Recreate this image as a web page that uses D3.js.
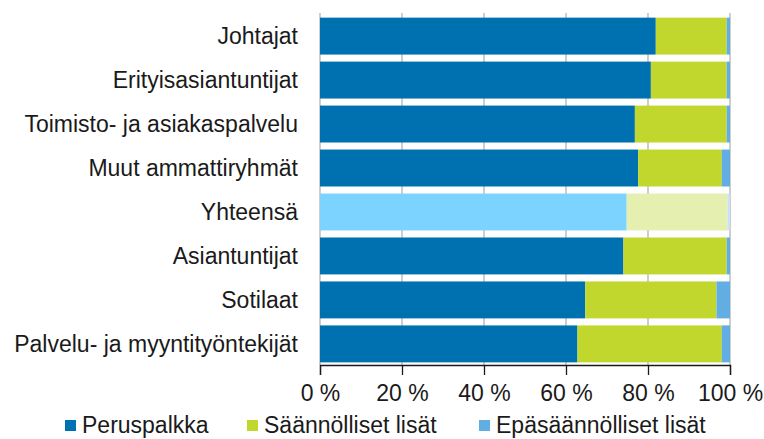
<!DOCTYPE html>
<html>
<head>
<meta charset="utf-8">
<script src="https://cdn.jsdelivr.net/npm/d3@7"></script>
<style>
  body { margin: 0; background: #fff; }
  text { font-family: "Liberation Sans", Arial, sans-serif; fill: #1a1a1a; }
</style>
</head>
<body>
<div id="chart"></div>
<script>
(() => {
    const width = 764, height = 439;
    const margin = { top: 15, right: 34, bottom: 74, left: 320 };

    // data, top to bottom
    const categories = ["Johtajat", "Erityisasiantuntijat", "Toimisto- ja asiakaspalvelu", "Muut ammattiryhmät",
        "Yhteensä", "Asiantuntijat", "Sotilaat", "Palvelu- ja myyntityöntekijät"];
    const seriesNames = ["Peruspalkka", "Säännölliset lisät", "Epäsäännölliset lisät"];
    const peruspalkka = [81.9, 80.7, 76.8, 77.6, 74.8, 74.0, 64.7, 62.8];
    const saannolliset = [17.3, 18.5, 22.4, 20.4, 24.6, 25.2, 32.0, 35.2];
    const epasaannolliset = [0.8, 0.8, 0.8, 2.0, 0.6, 0.8, 3.3, 2.0];
    const xTicks = [0, 20, 40, 60, 80, 100];
    const highlight = "Yhteensä";

    const colors = ["#0071b0", "#c2d72e", "#62aee3"];
    const lightColors = ["#7dd3ff", "#e5efb0", "#c6e4f6"];

    const rows = categories.map((c, i) => ({
        cat: c, v: [peruspalkka[i], saannolliset[i], epasaannolliset[i]]
    }));

    const svg = d3.select("#chart").append("svg")
        .attr("width", width).attr("height", height);

    const x = d3.scaleLinear().domain([0, 100]).range([margin.left, width - margin.right]);
    const y = d3.scaleBand().domain(categories)
        .range([margin.top, height - margin.bottom])
        .paddingInner(0.16).paddingOuter(0.06);

    // gridlines
    svg.append("g").selectAll("line").data(xTicks).join("line")
        .attr("x1", d => x(d)).attr("x2", d => x(d))
        .attr("y1", margin.top - 2).attr("y2", height - margin.bottom)
        .attr("stroke", "#b3b3b3").attr("stroke-width", 1.3);

    // stacked bars
    rows.forEach(r => {
        let acc = 0;
        const segs = r.v.map((v, k) => { const s = { x0: acc, x1: acc + v, k }; acc += v; return s; });
        svg.append("g").selectAll("rect").data(segs).join("rect")
            .attr("x", d => x(d.x0))
            .attr("y", y(r.cat))
            .attr("width", d => x(d.x1) - x(d.x0))
            .attr("height", y.bandwidth())
            .attr("fill", d => r.cat === highlight ? lightColors[d.k] : colors[d.k]);
    });

    // category labels
    svg.append("g").selectAll("text").data(categories).join("text")
        .attr("x", margin.left - 22)
        .attr("y", d => y(d) + y.bandwidth() / 2)
        .attr("dy", "0.35em")
        .attr("text-anchor", "end")
        .style("font-size", "23px")
        .text(d => d);

    // bottom axis
    const axis = svg.append("g")
        .attr("transform", `translate(0,${height - margin.bottom})`)
        .call(d3.axisBottom(x).tickValues(xTicks).tickSize(10).tickPadding(10).tickFormat(d => `${d} %`));
    axis.select(".domain").attr("stroke", "#1a1a1a").attr("stroke-width", 1.3);
    axis.selectAll(".tick line").attr("stroke", "#1a1a1a").attr("stroke-width", 1.3);
    axis.selectAll("text").style("font-size", "23px").style("font-family", "'Liberation Sans', Arial, sans-serif")
        .attr("fill", "#1a1a1a");

    // legend
    const legendX = [65, 247, 479];
    const leg = svg.append("g").selectAll("g").data(seriesNames).join("g")
        .attr("transform", (d, i) => `translate(${legendX[i]},${height - 6})`);
    leg.append("rect").attr("x", 0).attr("y", -13).attr("width", 11).attr("height", 11)
        .attr("fill", (d, i) => colors[i]);
    leg.append("text").attr("x", 17).attr("y", 0).style("font-size", "23px").text(d => d);
})();
</script>
</body>
</html>
